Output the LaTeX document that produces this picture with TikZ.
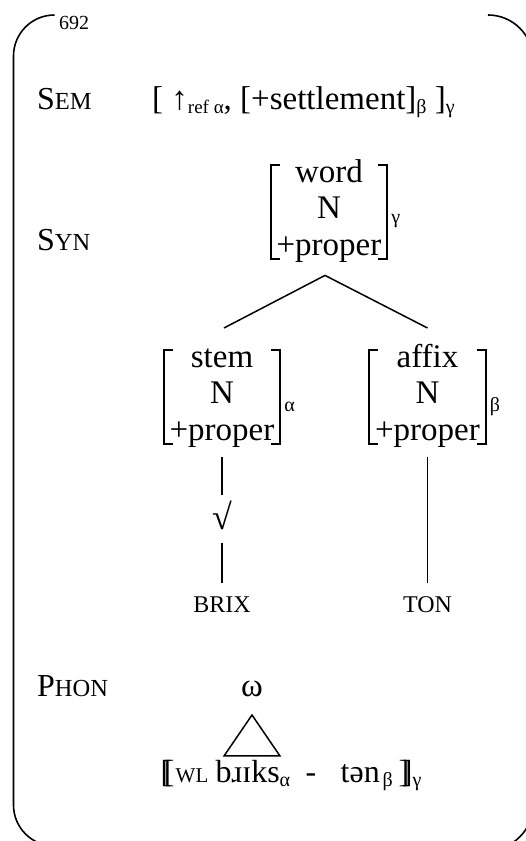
\documentclass[tikz,border=0pt]{standalone}
\usepackage{fontspec}
\setmainfont{Liberation Serif}
\newcommand\sz[1]{\fontsize{#1}{#1}\selectfont}
\newcommand\placeat[2]{\rlap{\hskip#1pt #2}}
\newcommand\lowsub[2][20]{\raisebox{-4pt}{\sz{#1}#2}}
\newcommand\drawbrackets[1]{%
  \draw[brk] ([xshift=9pt]#1.north west) -- (#1.north west) -- (#1.south west) -- ([xshift=9pt]#1.south west);
  \draw[brk] ([xshift=-9pt]#1.north east) -- (#1.north east) -- (#1.south east) -- ([xshift=-9pt]#1.south east);}
\tikzset{
  frame/.style={line width=1.6pt},
  fbox/.style={align=center, font=\fontsize{33}{36.5}\selectfont, text height=90pt, text depth=4pt,
    inner ysep=0pt, inner xsep=0pt, minimum width=116pt, anchor=north},
  brk/.style={line width=2pt},
  conn/.style={line width=1.5pt},
  lab/.style={font=\sz{32}, anchor=base west, inner sep=0pt},
  subs/.style={font=\sz{20}, anchor=west, inner sep=0pt},
  lex/.style={font=\sz{24}, anchor=base, inner sep=0pt},
}
\begin{document}
\begin{tikzpicture}[x=1pt,y=1pt]
\useasboundingbox (0,0) rectangle (526,841);
\begin{scope}
  \clip (0,0) rectangle (526,841);
  \draw[frame] (54.5,826) arc[start angle=90,end angle=180,radius=41pt] -- (13.5,36)
     arc[start angle=180,end angle=270,radius=41pt];
  \draw[frame] (488,826) arc[start angle=90,end angle=0,radius=45pt] -- (533,36)
     arc[start angle=0,end angle=-90,radius=45pt];
\end{scope}

\node[font=\sz{20}, anchor=base west, inner sep=0pt] (pg) at (59,811) {692};

% SEM
\node[lab] (semlab) at (37,731) {S{\sz{24.5}EM}};
\node[lab, font=\sz{33}] (semexpr) at (152,731) {[ ↑\lowsub[19]{ref α}, [+settlement]\lowsub{β} ]\lowsub{γ}};

% SYN
\node[lab] (synlab) at (37,590) {S{\sz{24.5}YN}};
\node[fbox] (word) at (329,676) {word\\N\\+proper};
\drawbrackets{word}
\node[subs] (gw) at ([xshift=4pt,yshift=38pt]word.south east) {γ};

\node[fbox] (stem) at (222,491) {stem\\N\\+proper};
\drawbrackets{stem}
\node[subs] (as) at ([xshift=4pt,yshift=38pt]stem.south east) {α};

\node[fbox] (affix) at (427.5,491) {affix\\N\\+proper};
\drawbrackets{affix}
\node[subs] (ba) at ([xshift=4pt,yshift=38pt]affix.south east) {β};

\draw[conn] ([xshift=-4pt,yshift=-16pt]word.south) -- ([xshift=2pt,yshift=22pt]stem.north);
\draw[conn] ([xshift=-4pt,yshift=-16pt]word.south) -- ([yshift=22pt]affix.north);

\node[font=\sz{36}, inner sep=0pt] (root) at (222,326) {√};
\node[lex] (brix) at (222,228) {BRIX};
\node[lex] (ton) at (427.5,228) {TON};
\draw[conn] ([yshift=-13pt]stem.south) -- ([yshift=20pt]root.center);
\draw[conn] ([yshift=-28pt]root.center) -- ([yshift=30pt]brix.base);
\draw[conn] ([yshift=-13pt]affix.south) -- ([yshift=30pt]ton.base);

% PHON
\node[lab] (phonlab) at (37,144) {P{\sz{24.5}HON}};
\node[font=\sz{33}, anchor=base, inner sep=0pt] (omega) at (252,144) {ω};
\node[anchor=base west, inner sep=0pt, font=\sz{32}] (phonstr) at (160,58) {%
  \placeat{0}{[\kern-7.5pt[}%
  \placeat{15}{{\sz{21}WL}}%
  \placeat{55}{bɹɪks}%
  \placeat{119}{\lowsub{α}}%
  \placeat{145}{-}%
  \placeat{180}{tən}%
  \placeat{222}{\lowsub{β}}%
  \placeat{238}{]\kern-7.5pt]}%
  \placeat{252}{\lowsub{γ}}};
\draw[conn, line join=miter] ([yshift=-18pt]omega.base) -- ++(-28,-41) -- ++(56,0) -- cycle;
\end{tikzpicture}
\end{document}
